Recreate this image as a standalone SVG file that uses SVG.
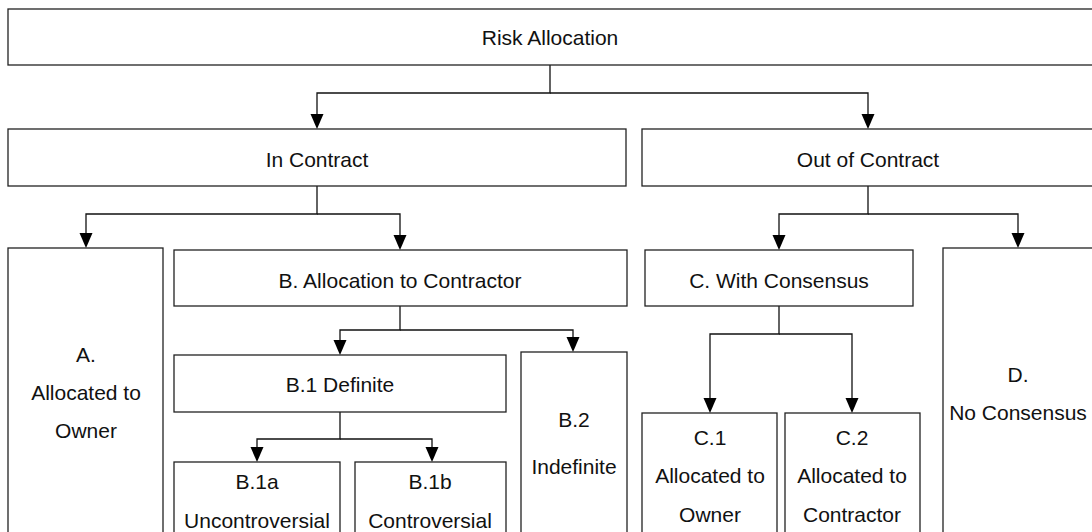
<svg xmlns="http://www.w3.org/2000/svg" width="1092" height="532" viewBox="0 0 1092 532">
  <defs>
    <style>
      .box { fill: #fff; stroke: #222; stroke-width: 1.3; }
      .lbl { font-family: "Liberation Sans", Arial, sans-serif; font-size: 21px; fill: #111; text-anchor: middle; }
      .conn { fill: none; stroke: #111; stroke-width: 1.3; }
      .head { fill: #000; }
    </style>
  </defs>
  <rect width="1092" height="532" fill="#fff"/>

  <!-- connectors: elbow lines, then the filled arrowheads at each child's top edge -->
  <g id="connectors">
    <path class="conn" d="M550,65 V93 H317 V114"/>
    <path class="conn" d="M550,93 H868 V114"/>
    <path class="conn" d="M317,186 V214 H86 V233"/>
    <path class="conn" d="M317,214 H400 V235"/>
    <path class="conn" d="M868,186 V214 H779 V235"/>
    <path class="conn" d="M868,214 H1018 V233"/>
    <path class="conn" d="M400,306 V330 H340 V340"/>
    <path class="conn" d="M400,330 H573 V337"/>
    <path class="conn" d="M340,412 V439 H257 V447"/>
    <path class="conn" d="M340,439 H432 V447"/>
    <path class="conn" d="M779,306 V334 H710 V398"/>
    <path class="conn" d="M779,334 H852 V398"/>
    <g class="head">
      <path d="M310.5,114 H323.5 L317,129 Z"/>
      <path d="M861.5,114 H874.5 L868,129 Z"/>
      <path d="M79.5,233 H92.5 L86,248 Z"/>
      <path d="M393.5,235 H406.5 L400,250 Z"/>
      <path d="M772.5,235 H785.5 L779,250 Z"/>
      <path d="M1011.5,233 H1024.5 L1018,248 Z"/>
      <path d="M333.5,340 H346.5 L340,355 Z"/>
      <path d="M566.5,337 H579.5 L573,352 Z"/>
      <path d="M250.5,447 H263.5 L257,462 Z"/>
      <path d="M425.5,447 H438.5 L432,462 Z"/>
      <path d="M703.5,398 H716.5 L710,413 Z"/>
      <path d="M845.5,398 H858.5 L852,413 Z"/>
    </g>
  </g>

  <g id="risk-allocation">
    <rect class="box" x="8" y="9" width="1100" height="56"/>
    <text class="lbl" x="550" y="45">Risk Allocation</text>
  </g>

  <g id="in-contract">
    <rect class="box" x="8" y="129" width="618" height="57"/>
    <text class="lbl" x="317" y="167">In Contract</text>
  </g>

  <g id="out-of-contract">
    <rect class="box" x="642" y="129" width="460" height="57"/>
    <text class="lbl" x="868" y="167">Out of Contract</text>
  </g>

  <g id="node-a">
    <rect class="box" x="8" y="248" width="155" height="300"/>
    <text class="lbl" x="86" y="362">A.</text>
    <text class="lbl" x="86" y="400">Allocated to</text>
    <text class="lbl" x="86" y="438">Owner</text>
  </g>

  <g id="node-b">
    <rect class="box" x="174" y="250" width="453" height="56"/>
    <text class="lbl" x="400" y="288">B. Allocation to Contractor</text>
  </g>

  <g id="node-c">
    <rect class="box" x="645" y="250" width="268" height="56"/>
    <text class="lbl" x="779" y="288">C. With Consensus</text>
  </g>

  <g id="node-d">
    <rect class="box" x="943" y="248" width="160" height="300"/>
    <text class="lbl" x="1018" y="382">D.</text>
    <text class="lbl" x="1018" y="420">No Consensus</text>
  </g>

  <g id="node-b1">
    <rect class="box" x="174" y="355" width="332" height="57"/>
    <text class="lbl" x="340" y="392">B.1 Definite</text>
  </g>

  <g id="node-b2">
    <rect class="box" x="521" y="352" width="106" height="200"/>
    <text class="lbl" x="574" y="427">B.2</text>
    <text class="lbl" x="574" y="474">Indefinite</text>
  </g>

  <g id="node-b1a">
    <rect class="box" x="174" y="462" width="166" height="90"/>
    <text class="lbl" x="257" y="489">B.1a</text>
    <text class="lbl" x="257" y="528">Uncontroversial</text>
  </g>

  <g id="node-b1b">
    <rect class="box" x="355" y="462" width="151" height="90"/>
    <text class="lbl" x="430" y="489">B.1b</text>
    <text class="lbl" x="430" y="528">Controversial</text>
  </g>

  <g id="node-c1">
    <rect class="box" x="642" y="413" width="135" height="140"/>
    <text class="lbl" x="710" y="445">C.1</text>
    <text class="lbl" x="710" y="483">Allocated to</text>
    <text class="lbl" x="710" y="522">Owner</text>
  </g>

  <g id="node-c2">
    <rect class="box" x="785" y="413" width="135" height="140"/>
    <text class="lbl" x="852" y="445">C.2</text>
    <text class="lbl" x="852" y="483">Allocated to</text>
    <text class="lbl" x="852" y="522">Contractor</text>
  </g>
</svg>
